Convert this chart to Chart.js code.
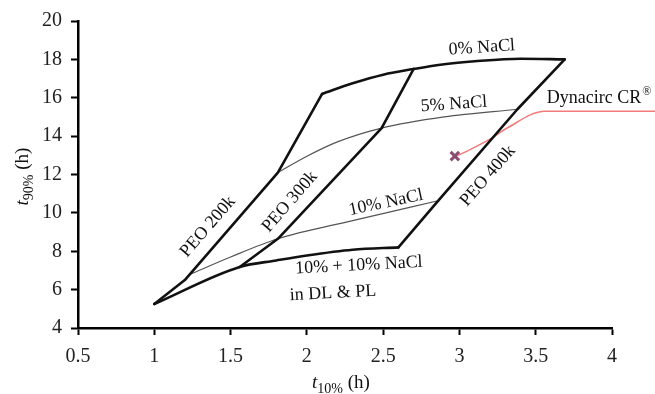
<!DOCTYPE html>
<html><head><meta charset="utf-8">
<script src="https://cdn.jsdelivr.net/npm/chart.js@4.4.1/dist/chart.umd.min.js"></script>
<style>html,body{margin:0;padding:0;background:#fff}#wrap{width:655px;height:394px;position:relative}</style>
</head><body><div id="wrap"><canvas id="c"></canvas></div>
<script>
// ---- tick labels ----
const xTicks = [0.5, 1, 1.5, 2, 2.5, 3, 3.5, 4];
const yTicks = [4, 6, 8, 10, 12, 14, 16, 18, 20];

// ---- PEO molecular-weight lines ----
const peo200kX = [1.0, 1.2, 1.81, 2.1];
const peo200kY = [5.25, 6.5, 12.1, 16.2];
const peo300kX = [1.56, 1.81, 2.49, 2.7];
const peo300kY = [7.18, 8.65, 14.42, 17.5];
const peo400kX = [2.6, 2.86, 3.38, 3.69];
const peo400kY = [8.2, 10.63, 15.4, 18.0];

// ---- NaCl content lines ----
const nacl0X = [2.1, 2.3, 2.5, 2.7, 2.9, 3.1, 3.4, 3.69];
const nacl0Y = [16.2, 16.75, 17.2, 17.5, 17.75, 17.9, 18.03, 18.0];
const nacl5X = [1.81, 2.0, 2.2, 2.49, 2.9, 3.38];
const nacl5Y = [12.1, 12.95, 13.7, 14.42, 15.0, 15.4];
const nacl10X = [1.23, 1.5, 1.81, 2.3, 2.86];
const nacl10Y = [6.78, 7.7, 8.65, 9.6, 10.63];
const nacl1010X = [1.0, 1.56, 1.8, 2.0, 2.3, 2.6];
const nacl1010Y = [5.25, 7.18, 7.52, 7.78, 8.08, 8.2];

// ---- Dynacirc CR marker and its pointer ----
const dynacircX = [2.97];
const dynacircY = [12.96];
const pointerX = [4.28, 3.56, 3.31, 3.2, 3.05, 2.99];
const pointerY = [15.3, 15.3, 14.41, 13.84, 13.22, 13.0];

const pts = (xs, ys) => xs.map((v, i) => ({x: v, y: ys[i]}));

const SERIF = '"Liberation Serif", "Times New Roman", serif';

const textLabels = [
  {text: '0% NaCl', x: 3.147, y: 18.61, rot: -4},
  {text: '5% NaCl', x: 2.964, y: 15.66, rot: -4},
  {text: '10% NaCl', x: 2.518, y: 10.53, rot: -12},
  {text: '10% + 10% NaCl', x: 2.341, y: 7.26, rot: -3},
  {text: 'in DL & PL', x: 2.171, y: 5.81, rot: -3},
  {text: 'PEO 200k', x: 1.352, y: 9.28, rot: -49},
  {text: 'PEO 300k', x: 1.889, y: 10.58, rot: -49},
  {text: 'PEO 400k', x: 3.187, y: 11.93, rot: -49}
];

function drawRich(ctx, parts, cx, cy) {
  let total = 0;
  for (const p of parts) { ctx.font = p.font; p.w = ctx.measureText(p.t).width; total += p.w; }
  let xx = cx - total / 2;
  for (const p of parts) { ctx.font = p.font; ctx.fillText(p.t, xx, cy + (p.dy || 0)); xx += p.w; }
}

const labelPlugin = {
  id: 'labels',
  afterDatasetsDraw(chart) {
    const {ctx, scales: {x, y}} = chart;
    ctx.save();
    ctx.fillStyle = '#111';
    ctx.textBaseline = 'middle';
    for (const L of textLabels) {
      const px = x.getPixelForValue(L.x), py = y.getPixelForValue(L.y);
      ctx.save();
      ctx.translate(px, py);
      ctx.rotate(L.rot * Math.PI / 180);
      ctx.font = '18px ' + SERIF;
      ctx.textAlign = 'center';
      ctx.fillText(L.text, 0, 0);
      ctx.restore();
    }
    // Dynacirc CR® label
    const dx = x.getPixelForValue(3.573), dy = y.getPixelForValue(15.97);
    ctx.textAlign = 'left';
    ctx.font = '18px ' + SERIF;
    ctx.fillText('Dynacirc CR', dx, dy);
    const w = ctx.measureText('Dynacirc CR').width;
    ctx.font = '12px ' + SERIF;
    ctx.fillText('\u00AE', dx + w + 1, dy - 6);

    // axis titles
    ctx.textAlign = 'left';
    ctx.textBaseline = 'alphabetic';
    const xt = [
      {t: 't', font: 'italic 19px ' + SERIF},
      {t: '10%', font: '14px ' + SERIF, dy: 5},
      {t: ' (h)', font: '19px ' + SERIF}
    ];
    drawRich(ctx, xt, (chart.chartArea.left + chart.chartArea.right) / 2 - 4, 388);
    ctx.save();
    ctx.translate(28, (chart.chartArea.top + chart.chartArea.bottom) / 2 + 2);
    ctx.rotate(-Math.PI / 2);
    const yt = [
      {t: 't', font: 'italic 19px ' + SERIF},
      {t: '90%', font: '14px ' + SERIF, dy: 5},
      {t: ' (h)', font: '19px ' + SERIF}
    ];
    drawRich(ctx, yt, 0, 0);
    ctx.restore();
    ctx.restore();
  }
};

const thick = {borderColor: '#111', borderWidth: 2.6, tension: 0};
const thin = {borderColor: '#555', borderWidth: 1.2};

const mk = (label, xs, ys, style, curved) => Object.assign({
  label, data: pts(xs, ys), showLine: true, pointRadius: 0, fill: false,
  cubicInterpolationMode: curved ? 'monotone' : 'default',
  borderJoinStyle: 'round', borderCapStyle: 'round'
}, style, curved ? {} : {tension: 0});

new Chart(document.getElementById('c'), {
  type: 'scatter',
  data: {
    datasets: [
      mk('PEO 200k', peo200kX, peo200kY, thick, false),
      mk('PEO 300k', peo300kX, peo300kY, thick, false),
      mk('PEO 400k', peo400kX, peo400kY, thick, false),
      mk('0% NaCl', nacl0X, nacl0Y, thick, true),
      mk('5% NaCl', nacl5X, nacl5Y, thin, true),
      mk('10% NaCl', nacl10X, nacl10Y, thin, true),
      mk('10% + 10% NaCl', nacl1010X, nacl1010Y, thick, true),
      Object.assign(mk('pointer', pointerX, pointerY, {borderColor: 'rgba(238,100,100,0.85)', borderWidth: 1.5}, true), {clip: false}),
      {label: 'Dynacirc CR', data: pts(dynacircX, dynacircY), showLine: false,
       pointStyle: 'crossRot', pointRadius: 6, pointBorderWidth: 3,
       pointBorderColor: '#8a4d72', pointBackgroundColor: '#8a4d72'}
    ]
  },
  options: {
    responsive: true, maintainAspectRatio: false, animation: false,
    layout: {padding: {left: 0, right: 43, top: 19, bottom: 0}},
    plugins: {legend: {display: false}, tooltip: {enabled: false}},
    scales: {
      x: {
        type: 'linear', min: 0.5, max: 4,
        afterBuildTicks: s => { s.ticks = xTicks.map(v => ({value: v})); },
        afterFit: s => { s.height = 66; },
        border: {display: true, color: '#000', width: 2.5},
        grid: {display: true, drawOnChartArea: false, drawTicks: true, tickLength: 7, tickColor: '#000', tickWidth: 2},
        ticks: {color: '#222', font: {family: SERIF, size: 20}, padding: 10, maxRotation: 0,
                callback: v => String(v)}
      },
      y: {
        type: 'linear', min: 4, max: 20,
        afterBuildTicks: s => { s.ticks = yTicks.map(v => ({value: v})); },
        afterFit: s => { s.width = 78; },
        border: {display: true, color: '#000', width: 2.5},
        grid: {display: true, drawOnChartArea: false, drawTicks: true, tickLength: 7, tickColor: '#000', tickWidth: 2},
        ticks: {color: '#222', font: {family: SERIF, size: 20}, padding: 9,
                callback: v => String(v)}
      }
    }
  },
  plugins: [labelPlugin]
});
</script></body></html>
